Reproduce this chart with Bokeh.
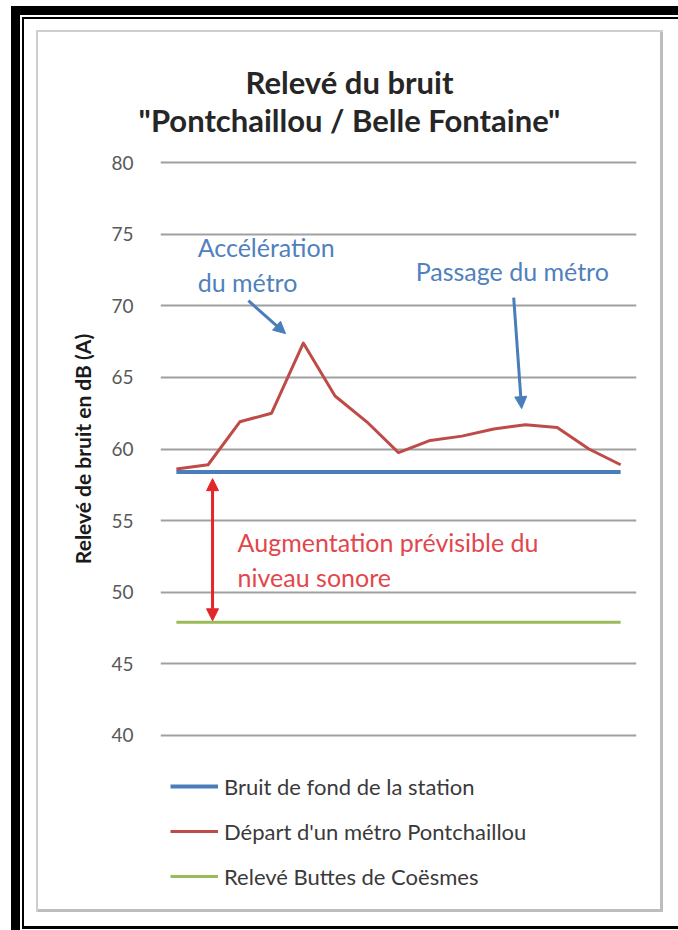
from bokeh.plotting import figure
from bokeh.layouts import column
from bokeh.models import (Range1d, FixedTicker, Label, Arrow, NormalHead, Legend, LegendItem)
from bokeh.embed import file_html
from bokeh.resources import INLINE

# ---- data ----
points = [1, 2, 3, 4, 5, 6, 7, 8, 9, 10, 11, 12, 13, 14, 15]
bruit_fond = [58.4, 58.4, 58.4, 58.4, 58.4, 58.4, 58.4, 58.4, 58.4, 58.4, 58.4, 58.4, 58.4, 58.4, 58.4]
depart_metro = [58.6, 58.9, 61.9, 62.5, 67.4, 63.7, 61.9, 59.75, 60.6, 60.9, 61.4, 61.7, 61.5, 60.0, 58.9]
releve_coesmes = [47.9, 47.9, 47.9, 47.9, 47.9, 47.9, 47.9, 47.9, 47.9, 47.9, 47.9, 47.9, 47.9, 47.9, 47.9]
y_ticks = [40, 45, 50, 55, 60, 65, 70, 75, 80]
series_names = ["Bruit de fond de la station", "Départ d'un métro Pontchaillou", "Relevé Buttes de Coësmes"]
title_lines = ["Relevé du bruit", "\"Pontchaillou / Belle Fontaine\""]

FONT = "Lato"
BLUE = "#4A7EBB"
RED = "#BE4B48"
GREEN = "#9BBB59"


def no_align(f):
    try:
        f.frame_align = False
    except Exception:
        pass


def bare_figure(height, xr, yr):
    f = figure(width=678, height=height, output_backend="svg", toolbar_location=None,
               x_range=xr, y_range=yr,
               x_axis_location=None, y_axis_location=None, min_border=0,
               min_border_left=0, min_border_right=0, min_border_top=0, min_border_bottom=0)
    f.outline_line_color = None
    f.background_fill_color = None
    f.border_fill_color = None
    f.grid.visible = False
    no_align(f)
    return f


# ---------- title strip ----------
t = bare_figure(148, Range1d(0, 678), Range1d(148, 0))
t.add_layout(Label(x=349, y=81, text=title_lines[0], text_align="center", text_baseline="alphabetic",
                   text_font=FONT, text_font_style="bold", text_font_size="31px", text_color="#262626"))
t.add_layout(Label(x=349, y=119, text=title_lines[1], text_align="center", text_baseline="alphabetic",
                   text_font=FONT, text_font_style="bold", text_font_size="31px", text_color="#262626"))

# ---------- main chart ----------
p = figure(width=678, height=604, output_backend="svg", toolbar_location=None,
           x_range=Range1d(0.5, 15.5), y_range=Range1d(39.85, 80.15), x_axis_location=None,
           min_border_left=160, min_border_right=42, min_border_top=12, min_border_bottom=15)
p.outline_line_color = None
p.background_fill_color = "white"
p.border_fill_color = None
no_align(p)

p.yaxis.ticker = FixedTicker(ticks=y_ticks)
p.yaxis.axis_line_color = None
p.yaxis.major_tick_line_color = None
p.yaxis.minor_tick_line_color = None
p.yaxis.major_label_standoff = 21
p.yaxis.major_label_text_font = FONT
p.yaxis.major_label_text_font_size = "19px"
p.yaxis.major_label_text_color = "#595959"
p.yaxis.axis_label = "Relevé de bruit en dB (A)"
p.yaxis.axis_label_text_font = FONT
p.yaxis.axis_label_text_font_style = "bold"
p.yaxis.axis_label_text_font_size = "21px"
p.yaxis.axis_label_text_color = "#1a1a1a"
p.yaxis.axis_label_standoff = 13

p.xgrid.visible = False
p.ygrid.ticker = FixedTicker(ticks=y_ticks)
p.ygrid.grid_line_color = "#A0A0A0"
p.ygrid.grid_line_width = 1.8

p.line(points, bruit_fond, line_color=BLUE, line_width=4)
p.line(points, depart_metro, line_color=RED, line_width=3, line_join="round")
p.line(points, releve_coesmes, line_color=GREEN, line_width=3)

ann_blue = "#4F81BD"
for (x, y, txt) in [(1.67, 74.13, "Accélération"), (1.67, 71.69, "du métro"),
                    (8.54, 72.46, "Passage du métro")]:
    p.add_layout(Label(x=x, y=y, text=txt, text_align="left", text_baseline="middle",
                       text_font=FONT, text_font_size="25px", text_color=ann_blue))
ann_red = "#E2474C"
for (x, y, txt) in [(2.93, 53.53, "Augmentation prévisible du"), (2.93, 51.09, "niveau sonore")]:
    p.add_layout(Label(x=x, y=y, text=txt, text_align="left", text_baseline="middle",
                       text_font=FONT, text_font_size="25px", text_color=ann_red))

p.add_layout(Arrow(x_start=3.27, y_start=70.36, x_end=4.44, y_end=68.06,
                   line_color=BLUE, line_width=3,
                   end=NormalHead(size=12, fill_color=BLUE, line_color=BLUE)))
p.add_layout(Arrow(x_start=11.63, y_start=70.57, x_end=11.88, y_end=62.82,
                   line_color=BLUE, line_width=3,
                   end=NormalHead(size=12, fill_color=BLUE, line_color=BLUE)))
ARROW_RED = "#E3262A"
p.add_layout(Arrow(x_start=2.14, y_start=48.0, x_end=2.14, y_end=57.93,
                   line_color=ARROW_RED, line_width=3,
                   start=NormalHead(size=12, fill_color=ARROW_RED, line_color=ARROW_RED),
                   end=NormalHead(size=12, fill_color=ARROW_RED, line_color=ARROW_RED)))

# ---------- legend strip: same series, out of this strip's view, give the legend samples ----------
lg = bare_figure(178, Range1d(0, 1), Range1d(0, 1))
s_blue = lg.line(points, bruit_fond, line_color=BLUE, line_width=4)
s_red = lg.line(points, depart_metro, line_color=RED, line_width=3)
s_green = lg.line(points, releve_coesmes, line_color=GREEN, line_width=3)
legend = Legend(items=[LegendItem(label=series_names[0], renderers=[s_blue]),
                       LegendItem(label=series_names[1], renderers=[s_red]),
                       LegendItem(label=series_names[2], renderers=[s_green])],
                location=(170, 39), orientation="vertical",
                glyph_width=48, glyph_height=30, label_height=30, spacing=15,
                label_standoff=6, padding=0, margin=0,
                border_line_color=None, background_fill_alpha=0,
                label_text_font=FONT, label_text_font_size="22px", label_text_color="#3a3a3a")
lg.add_layout(legend)

# decorative page frame (screenshot border) drawn as CSS background layers
bg = ", ".join([
    "linear-gradient(#000,#000) 11px 6px / 9px 924px no-repeat",
    "linear-gradient(#000,#000) 11px 6px / 667px 9px no-repeat",
    "linear-gradient(#000,#000) 22px 17px / 2px 911px no-repeat",
    "linear-gradient(#000,#000) 22px 17px / 656px 2px no-repeat",
    "linear-gradient(#000,#000) 22px 926px / 656px 3px no-repeat",
    "linear-gradient(#cfcfcf,#cfcfcf) 36px 30px / 2px 882px no-repeat",
    "linear-gradient(#cfcfcf,#cfcfcf) 36px 30px / 627px 2px no-repeat",
    "linear-gradient(#bdbdbd,#bdbdbd) 660px 30px / 3px 882px no-repeat",
    "linear-gradient(#bdbdbd,#bdbdbd) 36px 909px / 627px 3px no-repeat",
    "#ffffff",
])
layout = column(t, p, lg, spacing=0, styles={"background": bg})

open("out.html", "w").write(file_html(layout, INLINE))
